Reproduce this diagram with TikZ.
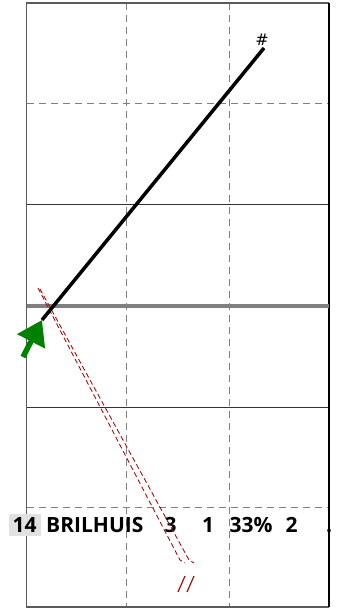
\documentclass[tikz,border=0pt]{standalone}
\usepackage{fontspec}
\setmainfont{Open Sans}
\newfontfamily\symfont{DejaVu Sans}
\usetikzlibrary{arrows.meta}
\definecolor{gridgray}{RGB}{128,128,128}
\definecolor{darkred}{RGB}{150,20,20}
\definecolor{pgreen}{RGB}{0,128,0}
\definecolor{boxgray}{RGB}{225,225,225}
\tikzset{
  gridsolid/.style={draw=black!80, line width=0.9pt},
  griddash/.style={draw=gridgray, line width=0.9pt, dash pattern=on 7pt off 5pt},
  runline/.style={draw=darkred, line width=0.9pt, dash pattern=on 5pt off 3pt},
  stat/.style={anchor=base west, inner sep=0pt, font=\fontsize{21}{24}\selectfont\bfseries},
}
\begin{document}
\begin{tikzpicture}[x=1pt,y=-1pt]
\useasboundingbox (0,0) rectangle (340,609);
% grid
\draw[griddash] (126.7,3) -- (126.7,607);
\draw[griddash] (229.3,3) -- (229.3,607);
\draw[griddash] (26.5,103.3) -- (329,103.3);
\draw[griddash] (26.5,507) -- (329,507);
\draw[gridsolid] (26.5,204) -- (329,204);
\draw[gridsolid] (26.5,407) -- (329,407);
\draw[draw=gridgray!70!black, line width=1.3pt] (329,3) -- (26.5,3) -- (26.5,607) -- (329,607);
\draw[black, line width=1.3pt] (329,3) -- (329,607);
\draw[draw=gridgray, line width=4pt] (26.5,306) -- (329,306);
% text row
\node[stat, fill=boxgray, inner xsep=4pt, inner ysep=3.5pt, anchor=base west] (n14) at (8.5,532) {14};
\node[stat] (name) at (46,532) {BRILHUIS};
\node[stat] (s3) at (164.5,532) {3};
\node[stat] (s1) at (202,532) {1};
\node[stat] (s33) at (229.5,532) {33\%};
\node[stat] (s2) at (285.5,532) {2};
\node[stat] (dot) at (326,532) {.};
% red dashed run
\coordinate (r1a) at (38,288);
\coordinate (r1b) at (180,560);
\coordinate (r1c) at (185,563);
\coordinate (r2a) at (40,289);
\coordinate (r2b) at (189,560);
\coordinate (r2c) at (194,563);
\draw[runline] (r1a) -- (r1b) -- (r1c);
\draw[runline] (r2a) -- (r2b) -- (r2c);
\coordinate (s1a) at (178,592); \coordinate (s1b) at (185,576);
\coordinate (s2a) at (187,592); \coordinate (s2b) at (194,576);
\draw[darkred, line width=1.2pt] (s1a) -- (s1b);
\draw[darkred, line width=1.2pt] (s2a) -- (s2b);
% black pass line
\coordinate (gtip) at (42,320);
\coordinate (pend) at (264,48);
\draw[black, line width=3.5pt] (gtip) -- (pend);
\node[font=\symfont\fontsize{16}{18}\selectfont, anchor=south, inner sep=0pt] (hash) at (262,46) {\#};
% green arrow
\coordinate (gtail) at (23,357);
\draw[pgreen, line width=5.5pt, -{Triangle[length=24pt,width=30pt]}] (gtail) -- (gtip);
\end{tikzpicture}
\end{document}
